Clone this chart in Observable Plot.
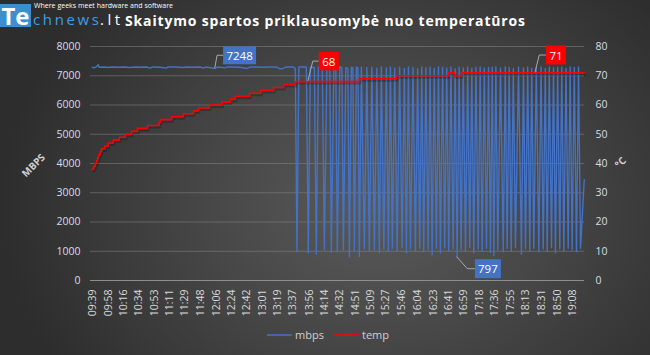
<!DOCTYPE html>
<html><head><meta charset="utf-8">
<script src="https://cdn.jsdelivr.net/npm/d3@7"></script>
<script src="https://cdn.jsdelivr.net/npm/@observablehq/plot@0.6"></script>
<style>
html,body{margin:0;padding:0;background:#333;}
#wrap{position:relative;width:650px;height:355px;overflow:hidden;
  background:radial-gradient(ellipse 58% 85% at 58% 58%, #5a5a5a 0%, #474747 45%, #2d2d2d 100%);
  font-family:"Open Sans",sans-serif;}
#chart{position:absolute;left:0;top:0;}
#overlay{position:absolute;left:0;top:0;pointer-events:none;font-family:"Open Sans",sans-serif;}
</style></head><body>
<div id="wrap">
<div id="chart"></div>
<svg id="overlay" width="650" height="355">
  <rect x="0" y="4" width="31" height="23" fill="#3a8fd0"/>
  <text x="1.5" y="25" font-size="24" font-weight="700" fill="#ffffff" textLength="28" lengthAdjust="spacingAndGlyphs">Te</text>
  <text x="33" y="24.5" font-size="15" fill="#3d9ee6" textLength="66" lengthAdjust="spacing">chnews</text>
  <text x="100" y="24.5" font-size="15" fill="#ffffff" textLength="20" lengthAdjust="spacing">.lt</text>
  <text x="34" y="8" font-size="7" fill="#ffffff" textLength="139" lengthAdjust="spacingAndGlyphs">Where geeks meet hardware and software</text>
  <text x="125" y="25.5" font-size="14" font-weight="700" fill="#ffffff" textLength="400" lengthAdjust="spacing">Skaitymo spartos priklausomybė nuo temperatūros</text>
  <text transform="translate(34,166) rotate(-45)" text-anchor="middle" dominant-baseline="middle" font-size="10" font-weight="700" fill="#d0d0d0">MBPS</text>
  <text transform="translate(621,163) rotate(-45)" text-anchor="middle" dominant-baseline="middle" font-size="10" font-weight="700" fill="#d0d0d0">°C</text>
  <line x1="267" x2="292" y1="335" y2="335" stroke="#4472c4" stroke-width="1.5"/>
  <text x="295" y="339" font-size="11" fill="#d0d0d0">mbps</text>
  <line x1="334" x2="359" y1="335" y2="335" stroke="#ff0000" stroke-width="1.5"/>
  <text x="362" y="339" font-size="11" fill="#d0d0d0">temp</text>
</svg>
</div>
<script>
// ---- data ----
const startClock = "09:39";
const tickLabels = ["09:39","09:58","10:16","10:34","10:53","11:11","11:29","11:48","12:06","12:24","12:42","13:01","13:19","13:37","13:56","14:14","14:32","14:51","15:09","15:27","15:46","16:04","16:23","16:41","16:59","17:18","17:36","17:55","18:13","18:31","18:50","19:08"];
const mbpsTicks = [0,1000,2000,3000,4000,5000,6000,7000,8000];

// temperature (°C), step changes; minutes after 09:39
const tempMinutes = [0,1.8,3.6,5.3,6.5,7.7,9.5,11,15.1,19,24.9,32,39.5,46.6,53.7,65.6,79.4,80.6,94,107.9,120.1,126,139,153.7,163.6,169.5,186.5,200,214.9,226.8,240.6,316.5,360.4,422,429.1,437.4,582.9];
const tempValues  = [38,39,40,41,42,43,44,45,46,47,48,49,50,51,52,53,54,55,56,57,58,59,60,61,62,63,64,65,66,67,68,69,70,71,70,71,71];

// read speed (MB/s), [minutes after 09:39, value]
const mbpsSteady = [[0,7290],[2.4,7270],[4.7,7300],[7.1,7380],[8.3,7290],[14.2,7300],[19,7280],[23.7,7300],[30.8,7290],[37.9,7300],[45,7280],[51,7300],[56.9,7290],[64,7300],[68.8,7260],[71.1,7300],[80.6,7290],[87.7,7260],[90.1,7300],[99.6,7300],[106.7,7280],[111.4,7300],[118.5,7290],[128,7300],[131.6,7260],[135.1,7300],[145.8,7248],[148.2,7300],[157.7,7270],[160,7300],[165.9,7300],[175.4,7290],[183.7,7250],[187.3,7300],[193.2,7300],[201.5,7290],[208.6,7300],[218.1,7300],[221.7,7240],[226.4,7250],[230,7300],[238.3,7300],[240.6,7250]];
const mbpsThrottled = [[242.6,980],[244.8,7300],[253.7,7300],[256,940],[258.4,7290],[263.2,7280],[265.5,900],[267.9,7300],[272.6,7260],[275,1050],[278,7300],[281.5,7250],[283.3,960],[286.3,7300],[288.6,7280],[290.4,980],[293.4,7310],[295.8,7270],[297.5,1050],[300.5,7280],[302.9,7250],[304.7,800],[307,7290],[308.8,7270],[310.6,1000],[313,7300],[314.8,7260],[316.5,820],[318.9,7300],[322.4,1080],[325.4,7280],[328.3,1000],[331.3,7290],[334.3,1050],[337.2,7260],[340.2,950],[342.6,7300],[345.5,1080],[348.5,7270],[350.9,1000],
[353.3,7300],[355.6,1100],[358.4,7260],[361.2,1000],[364.2,7290],[367.1,1120],[369.8,7250],[372.2,950],[374.6,7300],[377,1080],[380,7280],[382.9,1000],[385.5,7240],[388,1100],[390.4,7300],[392.7,980],[395.3,7270],[398,1050],[400.3,7290],[402.7,880],[405.2,7250],[407.8,1100],[410.2,7300],[412.5,950],[415.1,7280],[417.6,1120],[420,7260],[422.4,1000],[425,7300],[427.6,1080],[430,7240],[432.3,797],[434.7,7290],[437.1,1050],[439.6,7270],[442.2,1000],[444.8,7300],[447.3,1120],[449.7,7250],[452,950],[454.6,7290],[457.3,1080],[459.6,7300],[462,1000],[464.5,7260],[467.1,1100],[469.5,7280],[471.8,960],[473.9,7290],[475.8,850],[478.2,7300],[480.5,1050],[483.7,7260],[486.9,980],[489.3,7300],[491.6,1100],[494,7280],[496.4,1000],[498.9,7250],[501.4,1120],[505,7300],[508.5,900],[510.9,7270],[513.3,1080],[515.9,7300],[518.4,1000],[520.7,7260],[523.1,1100],[526.1,7290],[529.1,980],[531.7,7300],[534.3,1080],[536.7,7250],[539,1000],[541.5,7300],[544.1,1120],[546.5,7270],[548.8,950],[551.4,7290],[553.9,1080],[556.3,7300],[558.7,1000],[561.3,7260],[563.9,1100],[566.2,7300],[568.6,1050],[571.1,7280],[573.7,980],[576.1,7300],[578.5,1100],[582.9,3450]];

// data labels
const calloutSeries  = ["mbps","temp","temp","mbps"];
const calloutMinutes = [145.8, 256, 525.1, 432.3];
const calloutValues  = [7248, 68, 71, 797];

// ---- build ----
const toMin = s => { const [h, m] = s.split(":").map(Number); return h * 60 + m; };
const tickMinutes = tickLabels.map(s => toMin(s) - toMin(startClock));
const labelAt = new Map(tickMinutes.map((m, i) => [m, tickLabels[i]]));
const tempRows = tempMinutes.map((t, i) => ({t, y: tempValues[i] * 100}));
const mbpsRows = mbpsSteady.concat(mbpsThrottled).map(([t, v]) => ({t, v}));

const calloutLook = [
  {bx: 2.3, by: -12.7, left: 8.3, w: 33, h: 18, fill: "#4472c4"},
  {bx: 5, by: -20, left: 11, w: 20, h: 18.5, fill: "#ff0000"},
  {bx: 4.3, by: -17.3, left: 11, w: 20, h: 19, fill: "#ff0000"},
  {bx: 10.7, by: 12, left: 18.3, w: 26, h: 19, fill: "#4472c4"}
];

function calloutMark(index, scales) {
  const g = d3.create("svg:g");
  calloutMinutes.forEach((t, i) => {
    const val = calloutSeries[i] === "temp" ? calloutValues[i] * 100 : calloutValues[i];
    const px = scales.x(t), py = scales.y(val);
    const L = calloutLook[i];
    const bx = px + L.bx, by = py + L.by, x0 = px + L.left;
    g.append("path").attr("d", `M${px},${py}L${bx},${by}L${x0},${by}`)
      .attr("fill", "none").attr("stroke", "#a8a8a8").attr("stroke-width", 1);
    g.append("rect").attr("x", x0).attr("y", by - L.h / 2).attr("width", L.w).attr("height", L.h).attr("fill", L.fill);
    g.append("text").attr("x", x0 + L.w / 2).attr("y", by).attr("text-anchor", "middle")
      .attr("dominant-baseline", "central").attr("fill", "#ffffff").attr("font-size", 11.5)
      .text(String(calloutValues[i]));
  });
  return g.node();
}

const chart = Plot.plot({
  width: 650, height: 355,
  marginLeft: 90, marginRight: 66, marginTop: 46, marginBottom: 75,
  style: {background: "transparent", fontFamily: "Open Sans", fontSize: "10.5px", color: "#d6dde6"},
  x: {domain: [-2, 583.2]},
  y: {domain: [0, 8000]},
  marks: [
    Plot.gridY({ticks: mbpsTicks, stroke: "#8a8a8a", strokeOpacity: 0.5}),
    Plot.ruleY([0], {stroke: "#8e8e8e", strokeWidth: 1}),
    Plot.axisY({anchor: "left", ticks: mbpsTicks, tickSize: 0, tickPadding: 10, label: null, tickFormat: d => String(d)}),
    Plot.axisY({anchor: "right", ticks: mbpsTicks, tickSize: 0, tickPadding: 11, label: null, tickFormat: d => String(d / 100)}),
    Plot.axisX({ticks: tickMinutes, tickFormat: d => labelAt.get(d), tickRotate: -90, tickSize: 0, tickPadding: 9, label: null, fill: "#d8d8d8"}),
    Plot.line(mbpsRows, {x: "t", y: "v", stroke: "#4472c4", strokeWidth: 1.4}),
    Plot.line(tempRows, {x: "t", y: "y", curve: "step-after", stroke: "#000000", strokeOpacity: 0.22, strokeWidth: 2, dx: 1, dy: 2}),
    Plot.line(tempRows, {x: "t", y: "y", curve: "step-after", stroke: "#ff0000", strokeWidth: 1.6}),
    calloutMark
  ]
});
document.getElementById("chart").appendChild(chart);
</script>
</body></html>
